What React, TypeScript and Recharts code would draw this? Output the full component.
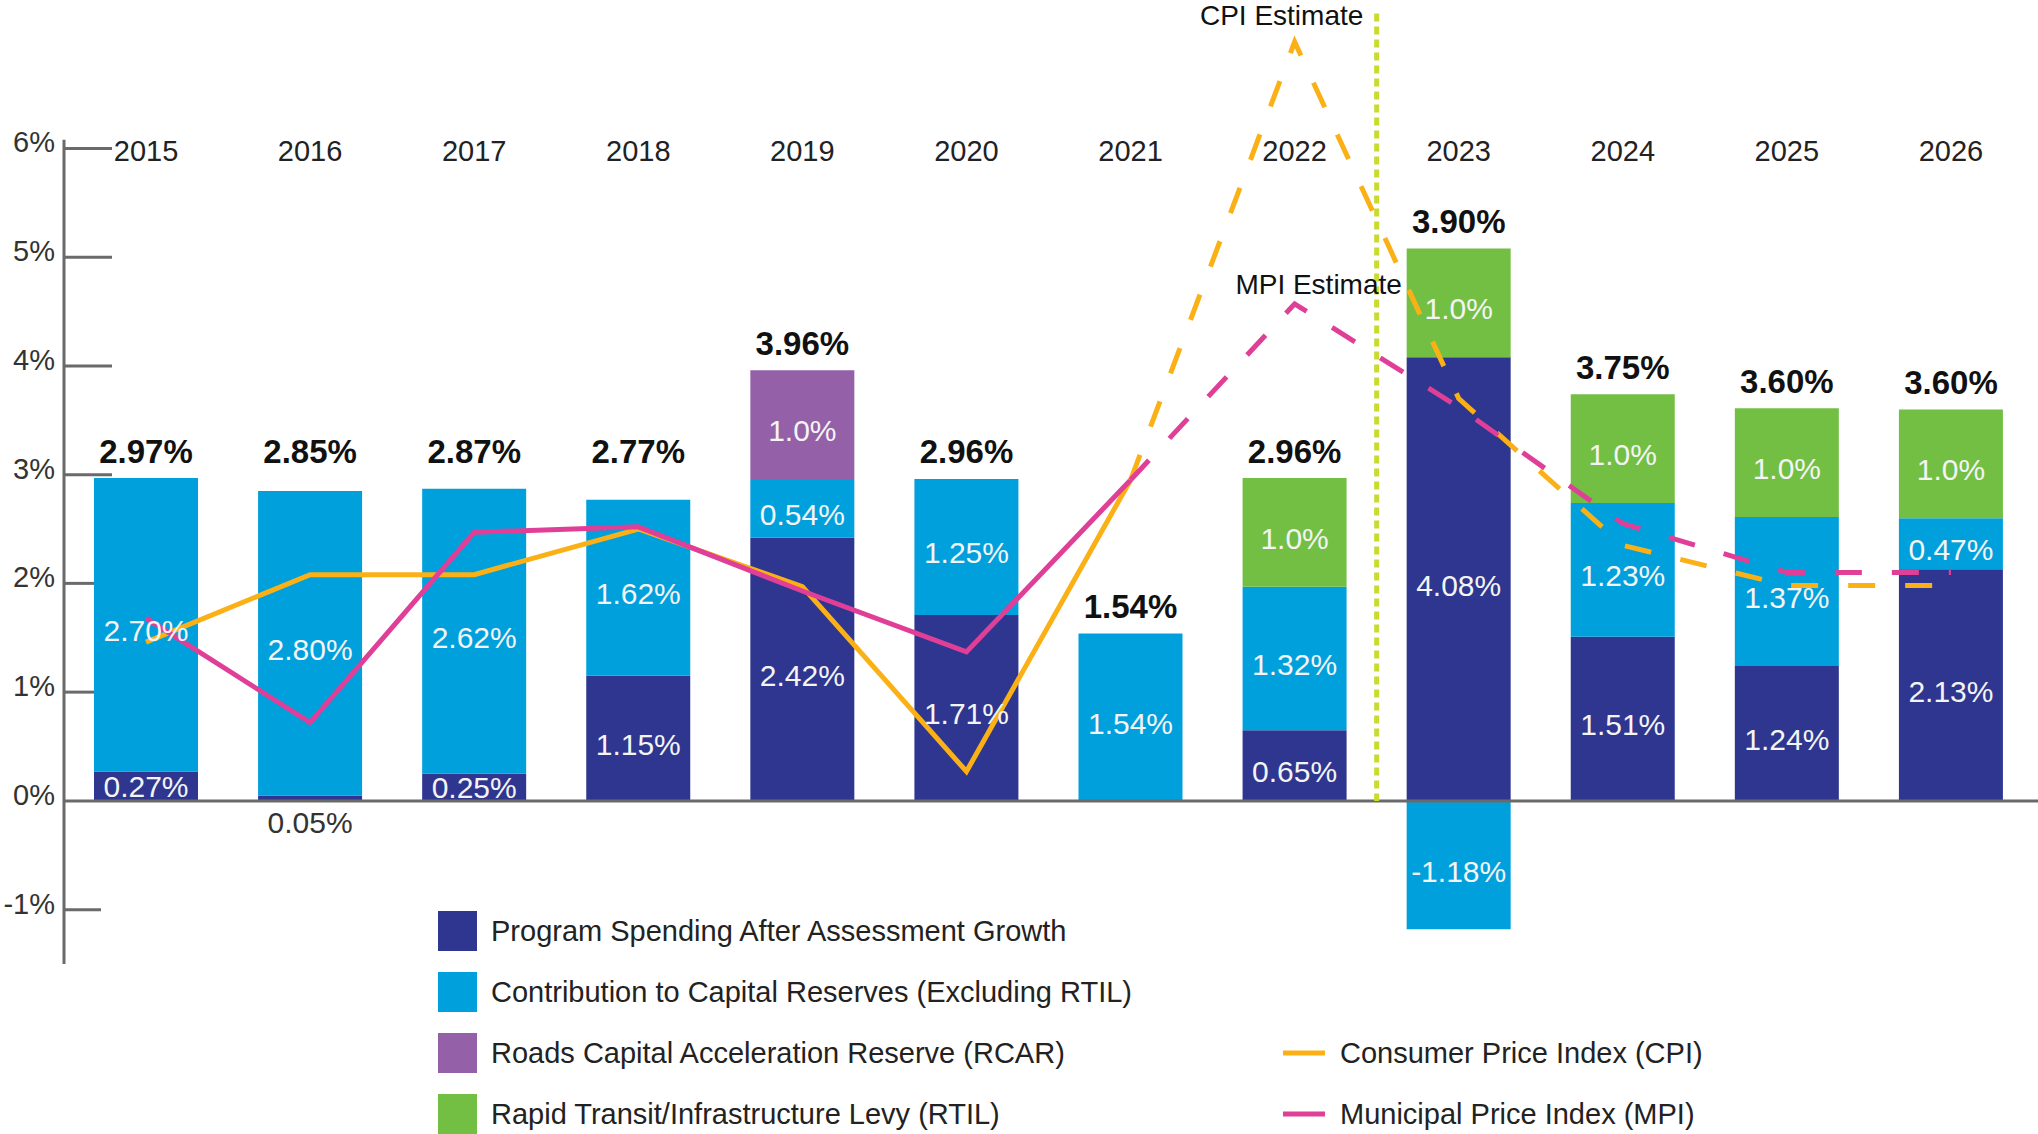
import React from 'react';
import {
  ComposedChart,
  Bar,
  Line,
  XAxis,
  YAxis,
  ReferenceLine,
  LabelList,
  Customized,
} from 'recharts';

// ---------- data ----------
const years = ['2015', '2016', '2017', '2018', '2019', '2020', '2021', '2022', '2023', '2024', '2025', '2026'];
const programSpending = [0.27, 0.05, 0.25, 1.15, 2.42, 1.71, null, 0.65, 4.08, 1.51, 1.24, 2.13];
const capitalReserves = [2.7, 2.8, 2.62, 1.62, 0.54, 1.25, 1.54, 1.32, -1.18, 1.23, 1.37, 0.47];
const roadsReserve = [null, null, null, null, 1.0, null, null, null, null, null, null, null];
const transitLevy = [null, null, null, null, null, null, null, 1.0, 1.0, 1.0, 1.0, 1.0];
const totalLabels = ['2.97%', '2.85%', '2.87%', '2.77%', '3.96%', '2.96%', '1.54%', '2.96%', '3.90%', '3.75%', '3.60%', '3.60%'];
const cpiActual = [1.46, 2.08, 2.08, 2.5, 1.97, 0.27, 2.95, null, null, null, null, null];
const mpiActual = [1.68, 0.72, 2.47, 2.52, 1.93, 1.37, 2.95, null, null, null, null, null];
const cpiEstimate = [null, null, null, null, null, null, 2.95, 6.98, 3.7, 2.35, 1.98, 1.98];
const mpiEstimate = [null, null, null, null, null, null, 2.95, 4.57, 3.62, 2.55, 2.1, 2.1];
const yTicks = [-1, 0, 1, 2, 3, 4, 5, 6];
const cpiEstimateLabel = 'CPI Estimate';
const mpiEstimateLabel = 'MPI Estimate';
const barLegendLabels = [
  'Program Spending After Assessment Growth',
  'Contribution to Capital Reserves (Excluding RTIL)',
  'Roads Capital Acceleration Reserve (RCAR)',
  'Rapid Transit/Infrastructure Levy (RTIL)',
];
const lineLegendLabels = ['Consumer Price Index (CPI)', 'Municipal Price Index (MPI)'];

// ---------- styles ----------
const FONT = '"Liberation Sans", Arial, Helvetica, sans-serif';
const C_PROGRAM = '#2E368F';
const C_CAPITAL = '#00A0DC';
const C_RCAR = '#9460A8';
const C_RTIL = '#72BF44';
const C_CPI = '#FBB116';
const C_MPI = '#E03F98';
const C_DIVIDER = '#C9DB2E';
const C_AXIS = '#6A6A6A';
const barColors = [C_PROGRAM, C_CAPITAL, C_RCAR, C_RTIL];
const lineColors = [C_CPI, C_MPI];

const CHART_W = 2038;
const MARGIN_RIGHT = 5;
const Y_AXIS_W = 64;
const BAND = (CHART_W - MARGIN_RIGHT - Y_AXIS_W) / years.length; // width of one category band
const HALF = BAND / 2;
const INNER_FS = 30;
const TOTAL_FS = 33;

// the ~3% group of totals shares one label row, as in the source
const GROUP_ROW = 2.97;

const data = years.map((year, i) => {
  const parts = [programSpending[i], capitalReserves[i], roadsReserve[i], transitLevy[i]];
  const stackTop = parts.reduce((s: number, v) => s + (v != null && v > 0 ? v : 0), 0);
  const labelAnchor = stackTop > 2.7 && stackTop < GROUP_ROW ? GROUP_ROW : stackTop;
  return {
    year,
    program: programSpending[i],
    capital: capitalReserves[i],
    rcar: roadsReserve[i],
    rtil: transitLevy[i],
    labelAnchor,
    total: totalLabels[i],
    cpi: cpiActual[i],
    mpi: mpiActual[i],
    cpiEst: cpiEstimate[i],
    mpiEst: mpiEstimate[i],
  };
});

const makeInnerLabel = (decimals: number) => (props: any) => {
  const { x, y, width, height, value } = props;
  if (value == null || value === 0) return null;
  const cx = Number(x) + Number(width) / 2;
  const h = Number(height);
  const text = `${Number(value).toFixed(decimals)}%`;
  if (Math.abs(h) < 15) {
    const bottom = Math.max(Number(y), Number(y) + h);
    return (
      <text x={cx} y={bottom + 22 + 10} textAnchor="middle" fontFamily={FONT} fontSize={INNER_FS} fill="#333">
        {text}
      </text>
    );
  }
  const cy = Number(y) + h / 2;
  const shift = Math.abs(h) > 45 ? 6 : 0;
  return (
    <text x={cx} y={cy + 10.5 + shift} textAnchor="middle" fontFamily={FONT} fontSize={INNER_FS} fill="#F4F4F4">
      {text}
    </text>
  );
};

const TotalLabel = (props: any) => {
  const { x, y, value } = props;
  if (value == null) return null;
  return (
    <text x={x} y={Number(y) - 27 + 12} textAnchor="middle" fontFamily={FONT} fontSize={TOTAL_FS} fontWeight="bold" fill="#111">
      {value}
    </text>
  );
};

const makeEstimateLabel = (text: string, dx: number, dy: number) => (props: any) => {
  const { x, y, index } = props;
  if (index !== 7) return null;
  return (
    <text x={Number(x) + dx} y={Number(y) + dy + 10} textAnchor="middle" fontFamily={FONT} fontSize={28} fill="#111">
      {text}
    </text>
  );
};

const YearTick = (props: any) => {
  const { x, payload } = props;
  return (
    <text x={x} y={161} textAnchor="middle" fontFamily={FONT} fontSize={29} fill="#222">
      {payload.value}
    </text>
  );
};

const PercentTick = (props: any) => {
  const { y, payload } = props;
  return (
    <text x={55} y={Number(y) - 6 + 10} textAnchor="end" fontFamily={FONT} fontSize={29} fill="#333">
      {`${payload.value}%`}
    </text>
  );
};

const tickLength = (t: number) => (t >= 3 ? 48 : t >= 1 ? 30 : 37);

// line shapes that shift a category-centred reference line to the band edge
const edgeLine = (dx: number, color: string, width: number, dash?: string) => (props: any) => (
  <line
    x1={Number(props.x1) + dx}
    y1={props.y1}
    x2={Number(props.x2) + dx}
    y2={props.y2}
    stroke={color}
    strokeWidth={width}
    strokeDasharray={dash}
  />
);

const tickShape = (len: number) => (props: any) => (
  <line
    x1={Number(props.x1) - HALF}
    y1={props.y1}
    x2={Number(props.x1) - HALF + len}
    y2={props.y1}
    stroke={C_AXIS}
    strokeWidth={3}
  />
);

const zeroShape = (props: any) => (
  <line x1={props.x1} y1={props.y1} x2={Number(props.x2) + MARGIN_RIGHT} y2={props.y2} stroke={C_AXIS} strokeWidth={3} />
);

const LegendBlock = () => (
  <g fontFamily={FONT} fontSize={29} fill="#222">
    {barLegendLabels.map((label, i) => (
      <g key={label}>
        <rect x={438} y={911 + i * 61} width={39} height={40} fill={barColors[i]} />
        <text x={491} y={931 + i * 61 + 10}>
          {label}
        </text>
      </g>
    ))}
    {lineLegendLabels.map((label, i) => (
      <g key={label}>
        <line x1={1283} x2={1325} y1={1053 + i * 61} y2={1053 + i * 61} stroke={lineColors[i]} strokeWidth={5} />
        <text x={1340} y={1053 + i * 61 + 10}>
          {label}
        </text>
      </g>
    ))}
  </g>
);

export default function App() {
  const first = years[0];
  return (
    <div style={{ position: 'absolute', left: 0, top: 0, width: 2038, height: 1134, background: '#fff' }}>
      <ComposedChart
        width={CHART_W}
        height={1134}
        data={data}
        stackOffset="sign"
        margin={{ top: 0, right: MARGIN_RIGHT, bottom: 170, left: 0 }}
      >
        <XAxis
          dataKey="year"
          type="category"
          orientation="top"
          height={7}
          axisLine={false}
          tickLine={false}
          tick={<YearTick />}
          interval={0}
        />
        <YAxis
          type="number"
          domain={[-1.5, 7.3]}
          ticks={yTicks}
          width={Y_AXIS_W}
          axisLine={false}
          tickLine={false}
          tick={<PercentTick />}
          allowDataOverflow
          interval={0}
        />

        {/* y axis line and its inward ticks */}
        <ReferenceLine
          segment={[{ x: first, y: 6.08 }, { x: first, y: -1.5 }]}
          ifOverflow="visible"
          shape={edgeLine(-HALF, C_AXIS, 3)}
        />
        {yTicks
          .filter((t) => t !== 0)
          .map((t) => (
            <ReferenceLine
              key={`tick-${t}`}
              segment={[{ x: first, y: t }, { x: first, y: t }]}
              ifOverflow="visible"
              shape={tickShape(tickLength(t))}
            />
          ))}
        <ReferenceLine y={0} ifOverflow="visible" shape={zeroShape} />
        {/* actual / estimate divider between 2022 and 2023 */}
        <ReferenceLine
          segment={[{ x: '2022', y: 7.24 }, { x: '2022', y: 0 }]}
          ifOverflow="visible"
          shape={edgeLine(HALF, C_DIVIDER, 5, '8 5')}
        />

        <Bar dataKey="program" stackId="s" fill={C_PROGRAM} barSize={104} isAnimationActive={false}>
          <LabelList dataKey="program" content={makeInnerLabel(2)} />
        </Bar>
        <Bar dataKey="capital" stackId="s" fill={C_CAPITAL} barSize={104} isAnimationActive={false}>
          <LabelList dataKey="capital" content={makeInnerLabel(2)} />
        </Bar>
        <Bar dataKey="rcar" stackId="s" fill={C_RCAR} barSize={104} isAnimationActive={false}>
          <LabelList dataKey="rcar" content={makeInnerLabel(1)} />
        </Bar>
        <Bar dataKey="rtil" stackId="s" fill={C_RTIL} barSize={104} isAnimationActive={false}>
          <LabelList dataKey="rtil" content={makeInnerLabel(1)} />
        </Bar>

        <Line
          dataKey="labelAnchor"
          stroke="none"
          dot={false}
          activeDot={false}
          isAnimationActive={false}
          legendType="none"
        >
          <LabelList dataKey="total" content={TotalLabel} />
        </Line>

        <Line
          type="linear"
          dataKey="cpi"
          stroke={C_CPI}
          strokeWidth={5}
          strokeLinejoin="miter"
          dot={false}
          activeDot={false}
          isAnimationActive={false}
        />
        <Line
          type="linear"
          dataKey="mpi"
          stroke={C_MPI}
          strokeWidth={5}
          strokeLinejoin="miter"
          dot={false}
          activeDot={false}
          isAnimationActive={false}
        />
        <Line
          type="linear"
          dataKey="cpiEst"
          stroke={C_CPI}
          strokeWidth={5}
          strokeDasharray="27 30"
          dot={false}
          activeDot={false}
          isAnimationActive={false}
        >
          <LabelList dataKey="cpiEst" content={makeEstimateLabel(cpiEstimateLabel, -13, -27)} />
        </Line>
        <Line
          type="linear"
          dataKey="mpiEst"
          stroke={C_MPI}
          strokeWidth={5}
          strokeDasharray="27 30"
          dot={false}
          activeDot={false}
          isAnimationActive={false}
        >
          <LabelList dataKey="mpiEst" content={makeEstimateLabel(mpiEstimateLabel, 24, -20)} />
        </Line>

        <Customized component={LegendBlock} />
      </ComposedChart>
    </div>
  );
}
